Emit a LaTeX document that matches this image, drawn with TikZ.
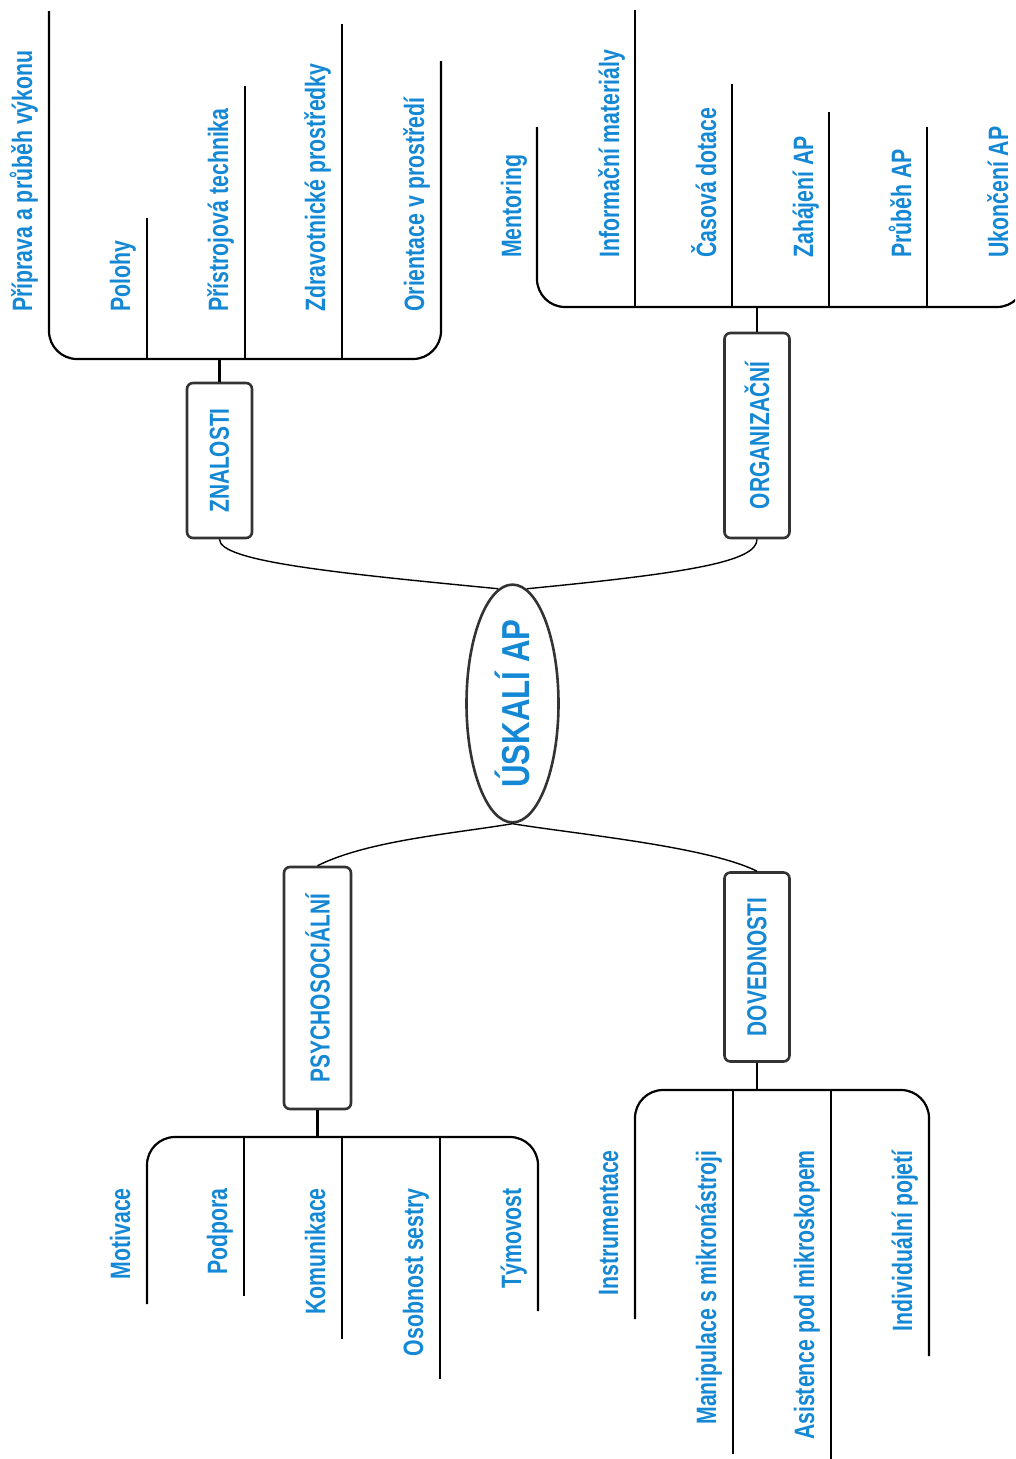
\documentclass[tikz,border=0pt]{standalone}
\usepackage{fontspec}
\usepackage{graphicx}
\usetikzlibrary{shapes.geometric}
\newfontfamily\mapfont{Liberation Sans}[FakeStretch=0.76]
\newfontfamily\corefont{Liberation Sans}[FakeStretch=0.80]
\definecolor{mapblue}{RGB}{20,136,212}
\definecolor{framegray}{RGB}{51,51,51}

\begin{document}
\begin{tikzpicture}[
    x=1pt, y=-1pt,
    core/.style={draw=framegray, ellipse, line width=2.6pt, fill=white, minimum width=92pt, minimum height=237pt, inner sep=0pt, text=mapblue, font=\corefont\bfseries\fontsize{39}{45}\selectfont},
    topic/.style={draw=framegray, rectangle, rounded corners=6pt, line width=2.6pt, fill=white, minimum width=65pt, inner sep=0pt, text=mapblue, font=\mapfont\bfseries\fontsize{27.5}{32}\selectfont},
    leaf/.style={rotate=90, inner sep=0pt, text=mapblue, font=\mapfont\bfseries\fontsize{28}{33}\selectfont},
    bracket/.style={draw=black, line width=2.2pt, rounded corners=28pt},
    twig/.style={draw=black, line width=2.2pt},
    link/.style={draw=black, line width=1.4pt}
]
\useasboundingbox (0,0) rectangle (1015,1459);
\clip (0,0) rectangle (1015,1459);

% Centre
\node[core] (core) at (512.5,703.5) {\rotatebox{90}{ÚSKALÍ AP}};

% Branch 1: Znalosti (top left)
\node[topic, minimum height=155pt] (zn) at (219.5,460.5) {\rotatebox{90}{ZNALOSTI}};
\node[leaf, anchor=base west] (zn1) at (32,312) {Příprava a průběh výkonu};
\node[leaf, anchor=base west] (zn2) at (130,312) {Polohy};
\node[leaf, anchor=base west] (zn3) at (228,312) {Přístrojová technika};
\node[leaf, anchor=base west] (zn4) at (325,312) {Zdravotnické prostředky};
\node[leaf, anchor=base west] (zn5) at (424,312) {Orientace v prostředí};
\coordinate (znhub) at (219.5,359);

% Branch 2: Organizacni (top right)
\node[topic, minimum height=205pt] (org) at (757,435.5) {\rotatebox{90}{ORGANIZAČNÍ}};
\node[leaf, anchor=base west] (org1) at (521,258) {Mentoring};
\node[leaf, anchor=base west] (org2) at (619,258) {Informační materiály};
\node[leaf, anchor=base west] (org3) at (716,258) {Časová dotace};
\node[leaf, anchor=base west] (org4) at (813,258) {Zahájení AP};
\node[leaf, anchor=base west] (org5) at (911,258) {Průběh AP};
\node[leaf, anchor=base west] (org6) at (1008,258) {Ukončení AP};
\coordinate (orghub) at (757,307);

% Branch 3: Psychosocialni (bottom left)
\node[topic, minimum width=67pt, minimum height=242pt] (psy) at (317.5,988) {\rotatebox{90}{PSYCHOSOCIÁLNÍ}};
\node[leaf, anchor=base east] (psy1) at (130,1188) {Motivace};
\node[leaf, anchor=base east] (psy2) at (227,1188) {Podpora};
\node[leaf, anchor=base east] (psy3) at (325,1188) {Komunikace};
\node[leaf, anchor=base east] (psy4) at (423,1188) {Osobnost sestry};
\node[leaf, anchor=base east] (psy5) at (521,1188) {Týmovost};
\coordinate (psyhub) at (317.5,1137);

% Branch 4: Dovednosti (bottom right)
\node[topic, minimum height=189pt] (dov) at (757,967) {\rotatebox{90}{DOVEDNOSTI}};
\node[leaf, anchor=base east] (dov1) at (618,1150) {Instrumentace};
\node[leaf, anchor=base east] (dov2) at (716,1150) {Manipulace s mikronástroji};
\node[leaf, anchor=base east] (dov3) at (814,1150) {Asistence pod mikroskopem};
\node[leaf, anchor=base east] (dov4) at (912,1150) {Individuální pojetí};
\coordinate (dovhub) at (757,1090);

% Edges
\draw[link] (zn.south) .. controls +(0,22) and +(-165,-16) .. (core.97);
\draw[link] (org.south) .. controls +(0,22) and +(165,-16) .. (core.83);
\draw[link] (core.south) .. controls +(-60,10) and +(50,-25) .. (psy.north);
\draw[link] (core.south) .. controls +(60,10) and +(-50,-25) .. (dov.north);

% Brackets and leaf lines
\draw[twig] (zn.north) -- (znhub);
\draw[bracket] (49,11) -- (49,359) -- (441,359) -- (441,61);
\draw[twig] (147,359) -- (147,218);
\draw[twig] (245,359) -- (245,86);
\draw[twig] (342,359) -- (342,24);

\draw[twig] (org.north) -- (orghub);
\draw[bracket] (537,127) -- (537,307) -- (1025,307) -- (1025,127);
\draw[twig] (635,307) -- (635,10);
\draw[twig] (732,307) -- (732,84);
\draw[twig] (829,307) -- (829,112);
\draw[twig] (927,307) -- (927,127);

\draw[twig] (psy.south) -- (psyhub);
\draw[bracket] (147,1304) -- (147,1137) -- (538,1137) -- (538,1311);
\draw[twig] (244,1137) -- (244,1296);
\draw[twig] (342,1137) -- (342,1339);
\draw[twig] (440,1137) -- (440,1379);

\draw[twig] (dov.south) -- (dovhub);
\draw[bracket] (635,1319) -- (635,1090) -- (929,1090) -- (929,1356);
\draw[twig] (733,1090) -- (733,1454);
\draw[twig] (831,1090) -- (831,1462);

\end{tikzpicture}
\end{document}
